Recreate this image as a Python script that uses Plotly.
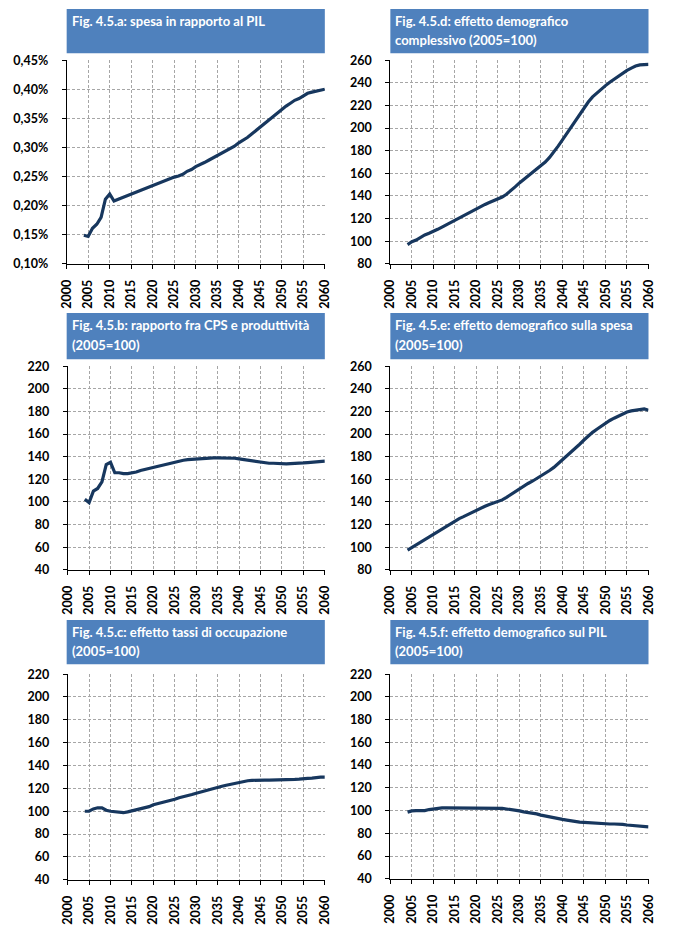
import plotly.graph_objects as go

years = list(range(2004, 2061))

# spending as % of GDP (values in percent)
spesa_pil = [0.149, 0.147, 0.161, 0.168, 0.180, 0.211, 0.220, 0.208, 0.211, 0.214,
             0.217, 0.220, 0.222, 0.225, 0.228, 0.231, 0.235, 0.237, 0.240, 0.243,
             0.246, 0.249, 0.251, 0.254, 0.259, 0.262, 0.267, 0.270, 0.274, 0.278,
             0.282, 0.286, 0.289, 0.293, 0.298, 0.302, 0.308, 0.312, 0.317, 0.323,
             0.329, 0.336, 0.342, 0.348, 0.354, 0.359, 0.366, 0.371, 0.376, 0.381,
             0.384, 0.389, 0.393, 0.395, 0.397, 0.398, 0.400]

cps_produttivita = [102.3, 99.4, 109.6, 111.9, 117.7, 133.0, 135.0, 125.8, 125.8, 125.0,
                    125.0, 125.5, 126.4, 127.8, 128.7, 129.6, 131.0, 131.9, 132.8, 133.6,
                    134.5, 135.4, 136.2, 136.8, 137.4, 137.7, 138.3, 138.6, 138.8, 139.0,
                    139.0, 139.0, 139.0, 139.0, 138.8, 138.6, 138.0, 137.4, 136.8, 136.0,
                    135.4, 135.0, 134.5, 134.2, 134.2, 133.9, 133.3, 133.6, 133.9, 133.9,
                    134.2, 134.5, 134.8, 135.0, 135.4, 135.7, 136.0]

tassi_occupazione = [100.0, 100.0, 102.0, 103.0, 103.0, 100.9, 100.0, 99.4, 99.0, 98.7,
                     99.4, 100.3, 101.4, 102.3, 103.2, 104.0, 105.7, 106.6, 107.8, 108.6,
                     109.5, 110.4, 111.8, 112.6, 113.5, 114.6, 115.8, 116.9, 118.0, 119.2,
                     120.0, 121.0, 121.8, 122.7, 123.5, 124.4, 125.6, 126.1, 126.7, 127.0,
                     127.3, 127.3, 127.3, 127.3, 127.3, 127.3, 127.3, 127.3, 127.9, 127.9,
                     128.1, 128.1, 128.7, 129.0, 129.6, 129.8, 129.8]

demo_complessivo = [97.0, 99.5, 101.0, 103.5, 105.5, 107.0, 108.5, 110.5, 112.5, 114.5,
                    116.5, 118.8, 121.0, 123.0, 125.0, 127.0, 129.0, 130.8, 132.5, 134.2,
                    135.8, 137.3, 139.0, 141.5, 144.5, 148.0, 151.5, 154.5, 157.5, 160.5,
                    163.5, 166.5, 170.0, 174.0, 178.5, 184.0, 189.5, 195.0, 200.5, 206.0,
                    211.5, 218.0, 223.0, 227.5, 231.0, 234.3, 237.5, 240.5, 243.2, 246.0,
                    248.7, 251.0, 253.0, 254.8, 255.8, 256.2, 256.2]

demo_spesa = [97.4, 99.7, 102.0, 104.8, 106.5, 109.0, 111.3, 113.5, 116.0, 118.5,
              121.0, 123.3, 125.3, 127.0, 129.0, 131.0, 132.8, 134.5, 136.2, 137.8,
              139.2, 140.5, 141.8, 144.0, 146.5, 149.3, 152.0, 154.2, 156.3, 158.3,
              160.5, 162.7, 165.2, 167.8, 170.5, 173.8, 177.2, 180.5, 183.5, 187.0,
              191.0, 194.7, 198.3, 201.5, 204.3, 207.0, 209.8, 212.0, 214.0, 216.0,
              218.0, 219.5, 220.5, 221.3, 222.0, 222.3, 221.0]

demo_pil = [98.6, 99.7, 100.0, 100.0, 100.0, 100.9, 101.4, 102.3, 102.3, 102.3,
            102.3, 102.3, 102.3, 102.3, 102.3, 102.3, 102.3, 102.3, 102.3, 102.3,
            102.3, 102.3, 102.0, 101.4, 100.9, 100.6, 99.7, 98.8, 98.3, 98.0,
            97.1, 96.0, 95.1, 94.2, 93.4, 92.8, 92.2, 91.6, 90.8, 90.2,
            89.9, 89.6, 89.3, 89.0, 88.7, 88.7, 88.4, 88.2, 88.2, 88.2,
            87.9, 87.3, 87.0, 87.0, 86.8, 86.2, 85.6]

titles = [
    ["Fig. 4.5.a: spesa in rapporto al PIL"],
    ["Fig. 4.5.b: rapporto fra CPS e produttività", "(2005=100)"],
    ["Fig. 4.5.c: effetto tassi di occupazione", "(2005=100)"],
    ["Fig. 4.5.d: effetto demografico", "complessivo (2005=100)"],
    ["Fig. 4.5.e: effetto demografico sulla spesa", "(2005=100)"],
    ["Fig. 4.5.f: effetto demografico sul PIL", "(2005=100)"],
]
series = [spesa_pil, cps_produttivita, tassi_occupazione,
          demo_complessivo, demo_spesa, demo_pil]
y_ranges = [(0.10, 0.45, 0.05), (40, 220, 20), (40, 220, 20),
            (80, 260, 20), (80, 260, 20), (40, 220, 20)]

W, H = 678, 934
# plot areas in pixels: left, right, top, bottom
plot_px = [(60, 324, 53, 260), (61, 324, 364, 571), (61, 324, 677, 886),
           (391, 655, 53, 260), (391, 655, 364, 571), (391, 655, 677, 885)]
# title boxes: left, right, top, bottom
box_px = [(60, 324, 1, 46), (60, 324, 310, 357), (60, 324, 622, 667),
          (391, 655, 1, 46), (391, 655, 310, 357), (391, 655, 622, 667)]

FONT = "Lato, 'Open Sans', sans-serif"
LINE = "#17375E"
BLUE = "#4F81BD"
GRID = "#A6A6A6"

fig = go.Figure()
layout = dict(width=W, height=H, autosize=False, margin=dict(l=0, r=0, t=0, b=0),
              paper_bgcolor="white", plot_bgcolor="white", showlegend=False,
              separators=",.", font=dict(family=FONT, size=12, color="black"))
shapes = []
annotations = []

for i in range(6):
    n = "" if i == 0 else str(i + 1)
    l, r, t, b = plot_px[i]
    fig.add_trace(go.Scatter(x=years, y=series[i], mode="lines",
                             line=dict(color=LINE, width=3.2),
                             xaxis="x" + n, yaxis="y" + n))
    y0, y1, dy = y_ranges[i]
    common = dict(showgrid=True, gridcolor=GRID, griddash="3px,2px", gridwidth=1,
                  showline=True, linecolor="black", linewidth=1,
                  ticks="outside", ticklen=4, tickcolor="black", tickwidth=1,
                  zeroline=False, fixedrange=True,
                  tickfont=dict(family=FONT, size=12.5, color="black", weight="bold"))
    layout["xaxis" + n] = dict(common, domain=[l / W, r / W], range=[2000, 2060],
                               tick0=2000, dtick=5, tickangle=-90,
                               anchor="y" + n, ticklabelstandoff=6)
    yax = dict(common, domain=[1 - b / H, 1 - t / H], range=[y0, y1],
               tick0=y0, dtick=dy, anchor="x" + n, ticklabelstandoff=11)
    if i == 0:
        yax["tickformat"] = ".2f"
        yax["ticksuffix"] = "%"
    layout["yaxis" + n] = yax

    bl, br, bt, bb = box_px[i]
    shapes.append(dict(type="rect", xref="paper", yref="paper",
                       x0=bl / W, x1=br / W, y0=1 - bb / H, y1=1 - bt / H,
                       fillcolor=BLUE, line=dict(width=0)))
    for k, txt in enumerate(titles[i]):
        annotations.append(dict(text="<b>" + txt + "</b>", xref="paper", yref="paper",
                                x=(bl + 3) / W, y=1 - (bt + 12 + 20 * k) / H,
                                xanchor="left", yanchor="middle", showarrow=False,
                                font=dict(family=FONT, size=13, color="white")))

layout["shapes"] = shapes
layout["annotations"] = annotations
fig.update_layout(**layout)
fig.write_html("out.html", config={"displayModeBar": False},
               post_script="document.body.style.margin='0';")
